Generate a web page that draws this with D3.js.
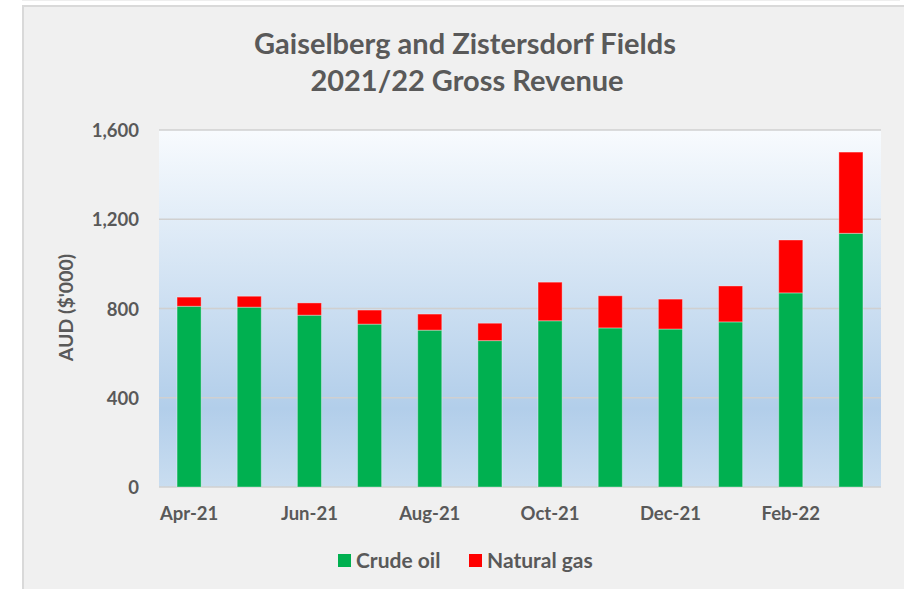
<!DOCTYPE html>
<html>
<head>
<meta charset="utf-8">
<script src="https://cdn.jsdelivr.net/npm/d3@7"></script>
<style>
  html, body { margin: 0; padding: 0; background: #fff; }
  svg { display: block; }
  text { font-family: Lato, "Open Sans", sans-serif; font-weight: bold; fill: #595959; }
</style>
</head>
<body>
<div id="chart"></div>
<script>
// data
const months = ["Apr-21", "May-21", "Jun-21", "Jul-21", "Aug-21", "Sep-21",
                "Oct-21", "Nov-21", "Dec-21", "Jan-22", "Feb-22", "Mar-22"];
const crudeOil = [810, 806, 770, 730, 703, 656, 745, 713, 708, 740, 870, 1137];
const naturalGas = [41, 49, 55, 63, 72, 78, 173, 144, 134, 161, 237, 364];
const yTicks = [0, 400, 800, 1200, 1600];
const seriesNames = ["Crude oil", "Natural gas"];
const seriesColors = ["#00b050", "#ff0000"];

const W = 904, H = 589;
const plot = { left: 159, right: 881, top: 130, bottom: 487 };

const svg = d3.select("#chart").append("svg")
  .attr("width", W).attr("height", H);

// ==================================================
// chart frame
// ==================================================
svg.append("line")
  .attr("x1", 22).attr("x2", 900).attr("y1", 0.5).attr("y2", 0.5)
  .attr("stroke", "#eeeeee");

svg.append("rect")
  .attr("x", 23).attr("y", 6)
  .attr("width", W).attr("height", H)
  .attr("fill", "#f0f0f0")
  .attr("stroke", "#d9d9d9")
  .attr("stroke-width", 2);

const grad = svg.append("defs").append("linearGradient")
  .attr("id", "plotBg").attr("x1", 0).attr("y1", 0).attr("x2", 0).attr("y2", 1);
grad.append("stop").attr("offset", "0%").attr("stop-color", "#f8fbfe");
grad.append("stop").attr("offset", "78%").attr("stop-color", "#b2ceea");
grad.append("stop").attr("offset", "100%").attr("stop-color", "#c9ddf0");

svg.append("rect")
  .attr("x", plot.left).attr("y", plot.top)
  .attr("width", plot.right - plot.left).attr("height", plot.bottom - plot.top)
  .attr("fill", "url(#plotBg)");

// ==================================================
// scales
// ==================================================
const x = d3.scaleBand()
  .domain(months)
  .range([plot.left, plot.right])
  .paddingInner(0.6)
  .paddingOuter(0.3);

const y = d3.scaleLinear()
  .domain([0, 1600])
  .range([plot.bottom, plot.top]);

// gridlines
svg.append("g")
  .selectAll("line")
  .data(yTicks)
  .join("line")
  .attr("x1", plot.left).attr("x2", plot.right)
  .attr("y1", d => y(d)).attr("y2", d => y(d))
  .attr("stroke", "#d0d0d0")
  .attr("stroke-width", 1.5);

// ==================================================
// stacked bars
// ==================================================
const rows = months.map((m, i) => ({ month: m, crude: crudeOil[i], gas: naturalGas[i] }));
const stack = d3.stack().keys(["crude", "gas"])(rows);

svg.append("g")
  .selectAll("g")
  .data(stack)
  .join("g")
  .attr("fill", (d, i) => seriesColors[i])
  .selectAll("rect")
  .data(d => d)
  .join("rect")
  .attr("x", d => x(d.data.month))
  .attr("width", x.bandwidth())
  .attr("y", d => y(d[1]))
  .attr("height", d => y(d[0]) - y(d[1]))
  .attr("stroke", "rgba(255,255,255,0.35)")
  .attr("stroke-width", 1);

// ==================================================
// axes
// ==================================================
const yAxis = svg.append("g")
  .attr("transform", `translate(${plot.left - 20},0)`)
  .call(d3.axisLeft(y).tickValues(yTicks).tickSize(0).tickPadding(0).tickFormat(d3.format(",")));
yAxis.select(".domain").remove();
yAxis.selectAll("text")
  .attr("dy", "0.36em")
  .style("font-size", "18.5px")
  .style("fill", "#595959");

const xAxis = svg.append("g")
  .attr("transform", `translate(0,${plot.bottom})`)
  .call(d3.axisBottom(x)
    .tickValues(months.filter((m, i) => i % 2 === 0))
    .tickSize(0).tickPadding(20));
xAxis.select(".domain").remove();
xAxis.selectAll("text")
  .style("font-size", "18.5px")
  .style("fill", "#595959");

svg.append("text")
  .attr("transform", `translate(73,${(plot.top + plot.bottom) / 2 - 1}) rotate(-90)`)
  .attr("text-anchor", "middle")
  .style("font-size", "19.5px")
  .text("AUD ($'000)");

// ==================================================
// title
// ==================================================
const title = svg.append("text")
  .attr("text-anchor", "middle")
  .style("font-size", "29px");
title.append("tspan").attr("x", 465).attr("y", 54).text("Gaiselberg and Zistersdorf Fields");
title.append("tspan").attr("x", 467).attr("y", 91).text("2021/22 Gross Revenue");

// ==================================================
// legend
// ==================================================
const legendX = [338, 469];
const legend = svg.append("g")
  .selectAll("g")
  .data(seriesNames)
  .join("g")
  .attr("transform", (d, i) => `translate(${legendX[i]},554)`);

legend.append("rect")
  .attr("width", 13).attr("height", 13)
  .attr("fill", (d, i) => seriesColors[i]);

legend.append("text")
  .attr("x", 18).attr("y", 14)
  .style("font-size", "21px")
  .text(d => d);
</script>
</body>
</html>
